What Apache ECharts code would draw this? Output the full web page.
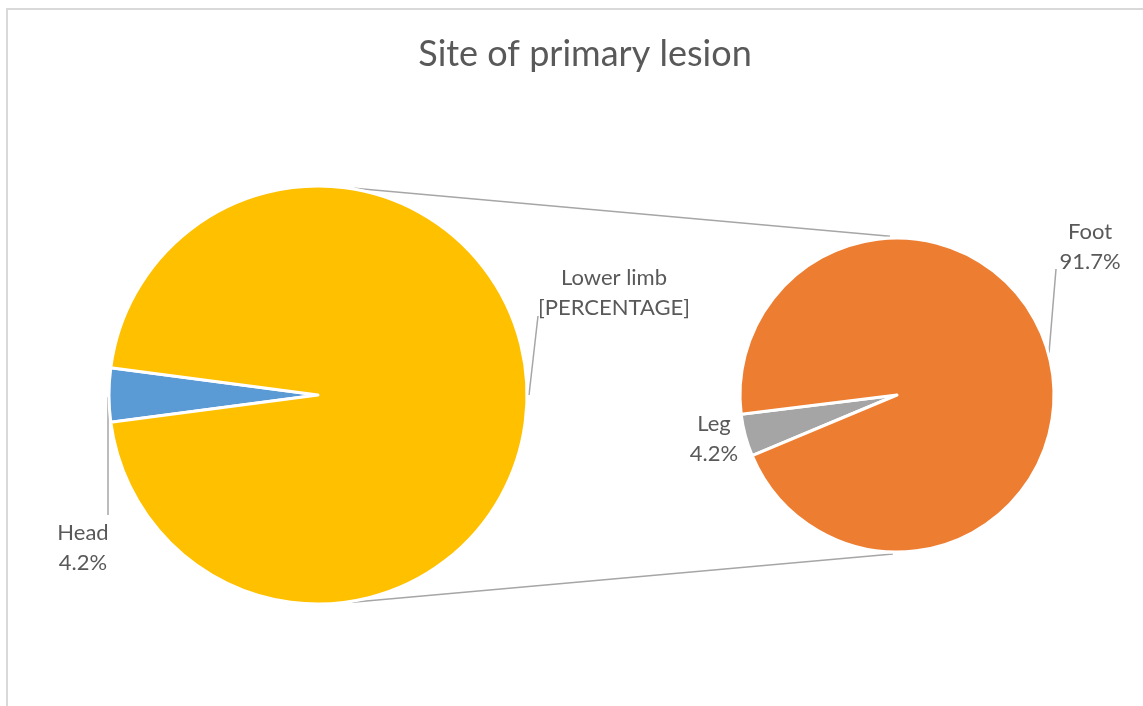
<!DOCTYPE html>
<html>
<head>
<meta charset="utf-8">
<script src="https://cdn.jsdelivr.net/npm/echarts@6/dist/echarts.min.js"></script>
<style>
html,body{margin:0;padding:0;background:#fff;}
#c{width:1143px;height:706px;}
</style>
</head>
<body>
<div id="c"></div>
<script>
// ---- data ----
const title = 'Site of primary lesion';
const primaryNames = ['Head', 'Lower limb'];
const primaryValues = [1, 23];
const primaryLabels = ['Head\n4.2%', 'Lower limb\n[PERCENTAGE]'];
const secondaryNames = ['Leg', 'Foot'];
const secondaryValues = [1, 22];
const secondaryLabels = ['Leg\n4.2%', 'Foot\n91.7%'];
const colorsPrimary = ['#5B9BD5', '#FFC000'];
const colorsSecondary = ['#A5A5A5', '#ED7D31'];

// ---- layout ----
const FONT = 'Lato, "Liberation Sans", sans-serif';
const TXT = '#595959';
const L = {cx: 318, cy: 395, r: 209};
const R = {cx: 897, cy: 395, r: 157};
const total1 = primaryValues.reduce((a, b) => a + b, 0);
const total2 = secondaryValues.reduce((a, b) => a + b, 0);
const headSpan = primaryValues[0] / total1 * 360;
const legSpan = secondaryValues[0] / total2 * 360;
const startL = 180 + headSpan / 2;          // head centred on the left
const startR = 180 + 14.9 + legSpan / 2;    // leg just below the left side

function pt(c, ang, dr) {
  const a = ang * Math.PI / 180;
  const r = c.r + (dr || 0);
  return [c.cx + r * Math.cos(a), c.cy - r * Math.sin(a)];
}

const chart = echarts.init(document.getElementById('c'));

const labelPosPrimary = [
  {x: 83, y: 548, line: [[108, 397], [108, 397], [108, 515]]},
  {x: 614, y: 293, line: [[529, 395], [529, 395], [538, 316]]}
];
const labelPosSecondary = [
  {x: 714, y: 439, line: null},
  {x: 1090, y: 247, line: [[1049, 353], [1049, 353], [1056, 269]]}
];

function mkData(names, values, labels, colors) {
  return names.map((n, i) => ({
    name: n, value: values[i],
    itemStyle: {color: colors[i]},
    label: {formatter: labels[i]}
  }));
}

const p1 = pt(L, 80, 1), p2 = pt(R, 92.5, 2), p3 = pt(L, -80.6, 1), p4 = pt(R, -91.5, 2);

const labelBase = {show: true, fontFamily: FONT, fontSize: 22, color: TXT, lineHeight: 30,
  align: 'center', overflow: 'none', width: 200};

chart.setOption({
  backgroundColor: '#fff',
  animation: false,
  title: {
    text: title, left: 580, textAlign: 'center', top: 31,
    textStyle: {fontFamily: FONT, fontSize: 36, fontWeight: 'normal', color: TXT}
  },
  graphic: [
    {type: 'rect', shape: {x: 7, y: 9, width: 1300, height: 900},
     style: {fill: null, stroke: '#d9d9d9', lineWidth: 2}, silent: true, z: -1},
    {type: 'line', shape: {x1: p1[0], y1: p1[1], x2: p2[0], y2: p2[1]},
     style: {stroke: '#a6a6a6', lineWidth: 1.5}, z: -1},
    {type: 'line', shape: {x1: p3[0], y1: p3[1], x2: p4[0], y2: p4[1]},
     style: {stroke: '#a6a6a6', lineWidth: 1.5}, z: -1}
  ],
  series: [
    {
      type: 'pie', center: [L.cx, L.cy], radius: [0, L.r],
      startAngle: startL, clockwise: true,
      itemStyle: {borderColor: '#fff', borderWidth: 3},
      label: labelBase,
      labelLine: {show: true, lineStyle: {color: '#a6a6a6', width: 1.5}, length: 10, length2: 10},
      labelLayout: function (p) {
        const o = labelPosPrimary[p.dataIndex];
        return {x: o.x, y: o.y, align: 'center', verticalAlign: 'middle', labelLinePoints: o.line};
      },
      data: mkData(primaryNames, primaryValues, primaryLabels, colorsPrimary)
    },
    {
      type: 'pie', center: [R.cx, R.cy], radius: [0, R.r],
      startAngle: startR, clockwise: true,
      itemStyle: {borderColor: '#fff', borderWidth: 3},
      label: labelBase,
      labelLine: {show: true, lineStyle: {color: '#a6a6a6', width: 1.5}, length: 10, length2: 10},
      labelLayout: function (p) {
        const o = labelPosSecondary[p.dataIndex];
        const r = {x: o.x, y: o.y, align: 'center', verticalAlign: 'middle'};
        if (o.line) r.labelLinePoints = o.line;
        return r;
      },
      data: mkData(secondaryNames, secondaryValues, secondaryLabels, colorsSecondary).map((d, i) => {
        if (i === 0) d.labelLine = {show: false};
        return d;
      })
    }
  ]
});
</script>
</body>
</html>
